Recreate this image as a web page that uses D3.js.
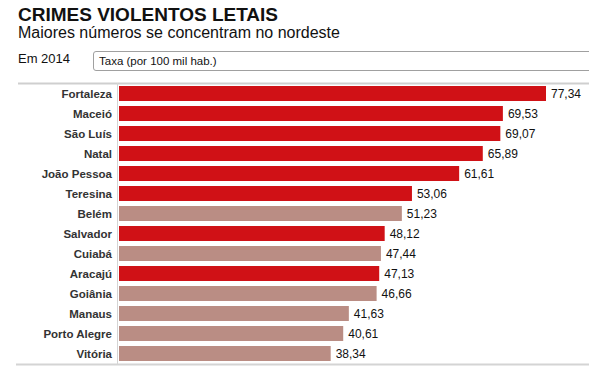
<!DOCTYPE html>
<html>
<head>
<meta charset="utf-8">
<script src="https://cdn.jsdelivr.net/npm/d3@7"></script>
<style>
  body { margin: 0; background: #fff; font-family: "Liberation Sans", Arial, sans-serif; }
  #chart { position: relative; width: 589px; height: 367px; overflow: hidden; }
  #select-box {
    position: absolute; left: 93px; top: 51px; width: 520px; height: 18px;
    border: 1px solid #a0a0a0; border-radius: 3px; box-sizing: content-box;
    font-size: 11.5px; line-height: 19px; padding-left: 5px; color: #111;
  }
</style>
</head>
<body>
<div id="chart"></div>
<script>
// Em 2014 - taxa por 100 mil habitantes
const cities = ["Fortaleza", "Maceió", "São Luís", "Natal", "João Pessoa", "Teresina", "Belém",
  "Salvador", "Cuiabá", "Aracajú", "Goiânia", "Manaus", "Porto Alegre", "Vitória"];
const rates = [77.34, 69.53, 69.07, 65.89, 61.61, 53.06, 51.23, 48.12, 47.44, 47.13, 46.66, 41.63, 40.61, 38.34];
// nordeste ou nao
const nordeste = [true, true, true, true, true, true, false, true, false, true, false, false, false, false];

let data = cities.map((c, i) => ({ city: c, value: rates[i], ne: nordeste[i] }));

let container = d3.select("#chart");

container.append("div")
  .attr("id", "select-box")
  .text("Taxa (por 100 mil hab.)");

let svg = container.append("svg")
  .attr("width", 589)
  .attr("height", 367)
  .style("position", "absolute")
  .style("left", 0).style("top", 0)
  .style("pointer-events", "none");

svg.append("text")
  .attr("x", 18).attr("y", 21)
  .style("font-size", "19px").style("font-weight", "bold").style("fill", "#111")
  .text("CRIMES VIOLENTOS LETAIS");

svg.append("text")
  .attr("x", 18).attr("y", 38)
  .style("font-size", "16px").style("fill", "#111")
  .text("Maiores números se concentram no nordeste");

svg.append("text")
  .attr("x", 18).attr("y", 63)
  .style("font-size", "13px").style("fill", "#111")
  .text("Em 2014");

let chartLeft = 119, chartTop = 84;
let x = d3.scaleLinear().domain([0, 77.34]).range([0, 427]);
let y = d3.scaleBand().domain(cities).range([chartTop, chartTop + 20 * cities.length]).paddingInner(0.25).paddingOuter(0.125);

// linhas
svg.append("line")
  .attr("x1", 18).attr("x2", 589).attr("y1", 83.5).attr("y2", 83.5)
  .style("stroke", "#cfcfcf").style("stroke-width", 2);
svg.append("line")
  .attr("x1", 16).attr("x2", 589).attr("y1", 364.5).attr("y2", 364.5)
  .style("stroke", "#d4d4d4").style("stroke-width", 2);
svg.append("line")
  .attr("x1", 117.5).attr("x2", 117.5).attr("y1", 83).attr("y2", 364)
  .style("stroke", "#d4d4d4").style("stroke-width", 1);

let rows = svg.selectAll("g.row")
  .data(data)
  .join("g")
  .classed("row", true);

rows.append("rect")
  .attr("x", chartLeft)
  .attr("y", d => y(d.city) - 0.5)
  .attr("width", d => x(d.value))
  .attr("height", y.bandwidth())
  .style("fill", d => d.ne ? "#d01116" : "#ba8d84");

rows.append("text")
  .attr("x", 112)
  .attr("y", d => y(d.city) + y.bandwidth() / 2 + 4)
  .attr("text-anchor", "end")
  .style("font-size", "11.5px").style("font-weight", "bold").style("fill", "#333")
  .text(d => d.city);

rows.append("text")
  .attr("x", d => chartLeft + x(d.value) + 5)
  .attr("y", d => y(d.city) + y.bandwidth() / 2 + 4)
  .style("font-size", "12px").style("fill", "#111")
  .text(d => d.value.toFixed(2).replace(".", ","));
</script>
</body>
</html>
